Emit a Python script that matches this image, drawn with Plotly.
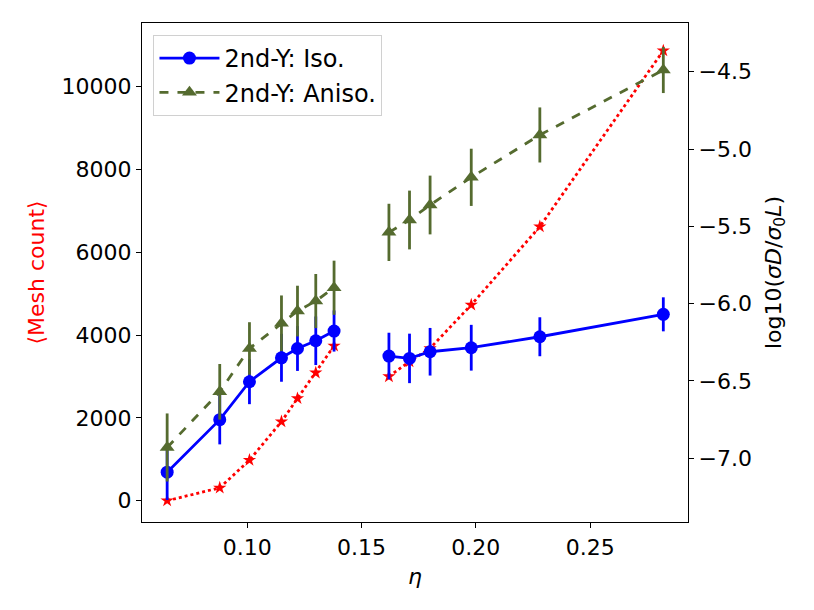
import plotly.graph_objects as go

# eta values, two separate runs (gap between 0.138 and 0.162)
eta_lo = [0.065, 0.088, 0.101, 0.115, 0.122, 0.130, 0.138]
eta_hi = [0.162, 0.171, 0.180, 0.198, 0.228, 0.282]

# mean mesh count (left axis)
mesh_lo = [0, 310, 980, 1910, 2470, 3090, 3740]
mesh_hi = [3000, 3360, 3680, 4730, 6620, 10870]

# 2nd-Y isotropic (right axis)
iso_lo = [-7.09, -6.75, -6.505, -6.35, -6.29, -6.24, -6.177]
iso_hi = [-6.339, -6.354, -6.311, -6.285, -6.214, -6.069]
iso_err_lo = [0.18, 0.16, 0.145, 0.155, 0.145, 0.157, 0.133]
iso_err_hi = [0.151, 0.16, 0.154, 0.148, 0.126, 0.11]

# 2nd-Y anisotropic (right axis)
aniso_lo = [-6.93, -6.57, -6.29, -6.127, -6.048, -5.983, -5.897]
aniso_hi = [-5.539, -5.459, -5.362, -5.183, -4.909, -4.489]
aniso_err_lo = [0.22, 0.18, 0.17, 0.18, 0.164, 0.175, 0.175]
aniso_err_hi = [0.185, 0.19, 0.19, 0.185, 0.178, 0.149]


def joined(a, b):
    return list(a) + [None] + list(b)


FONT = "DejaVu Sans"
FS = 22
OLIVE = "#556B2F"

fig = go.Figure()

fig.add_trace(go.Scatter(
    x=joined(eta_lo, eta_hi), y=joined(mesh_lo, mesh_hi),
    mode="lines+markers", yaxis="y", showlegend=False,
    line=dict(color="red", width=2.8, dash="dot"),
    marker=dict(symbol="star", size=10, color="red"),
    connectgaps=False,
))

fig.add_trace(go.Scatter(
    x=joined(eta_lo, eta_hi), y=joined(iso_lo, iso_hi),
    error_y=dict(type="data", array=joined(iso_err_lo, iso_err_hi),
                 color="blue", thickness=2.8, width=0),
    mode="lines+markers", yaxis="y2", name="2nd-Y: Iso.",
    line=dict(color="blue", width=2.8),
    marker=dict(symbol="circle", size=13, color="blue"),
    connectgaps=False,
))

fig.add_trace(go.Scatter(
    x=joined(eta_lo, eta_hi), y=joined(aniso_lo, aniso_hi),
    error_y=dict(type="data", array=joined(aniso_err_lo, aniso_err_hi),
                 color=OLIVE, thickness=2.8, width=0),
    mode="lines+markers", yaxis="y2", name="2nd-Y: Aniso.",
    line=dict(color=OLIVE, width=2.8, dash="dash"),
    marker=dict(symbol="triangle-up", size=13, color=OLIVE),
    connectgaps=False,
))

axis_common = dict(
    showgrid=False, zeroline=False, showline=True, linecolor="black",
    linewidth=1.3, ticks="outside", ticklen=5, tickcolor="black",
    tickfont=dict(family=FONT, size=FS, color="black"),
)

# the page body adds an 8px offset, so the figure is drawn 8px smaller
fig.update_layout(
    width=806, height=602,
    margin=dict(l=133.5, r=126, t=15, b=88),
    paper_bgcolor="white", plot_bgcolor="white",
    font=dict(family=FONT, size=FS, color="black"),
    xaxis=dict(
        range=[0.054, 0.2928], tickvals=[0.10, 0.15, 0.20, 0.25],
        ticktext=["0.10", "0.15", "0.20", "0.25"], mirror=True,
        title=dict(text="<i>η</i>", font=dict(family=FONT, size=FS), standoff=10),
        **axis_common,
    ),
    yaxis=dict(
        range=[-515, 11538], tickvals=[0, 2000, 4000, 6000, 8000, 10000],
        ticktext=["0", "2000", "4000", "6000", "8000", "10000"],
        title=dict(text="⟨Mesh count⟩", font=dict(family=FONT, size=FS, color="red"), standoff=10),
        **axis_common,
    ),
    yaxis2=dict(
        range=[-7.412, -4.185], overlaying="y", side="right",
        tickvals=[-7.0, -6.5, -6.0, -5.5, -5.0, -4.5],
        ticktext=["\u22127.0", "\u22126.5", "\u22126.0", "\u22125.5", "\u22125.0", "\u22124.5"],
        title=dict(text="log10(<i>σD</i>/<i>σ</i><sub>0</sub><i>L</i>)",
                   font=dict(family=FONT, size=FS), standoff=14),
        **axis_common,
    ),
    legend=dict(
        x=0.021, y=0.976, xanchor="left", yanchor="top",
        bgcolor="rgba(255,255,255,0.8)", bordercolor="#d0d0d0", borderwidth=1,
        font=dict(family=FONT, size=24), tracegroupgap=2, itemwidth=60,
    ),
)

fig.write_html("out.html")
